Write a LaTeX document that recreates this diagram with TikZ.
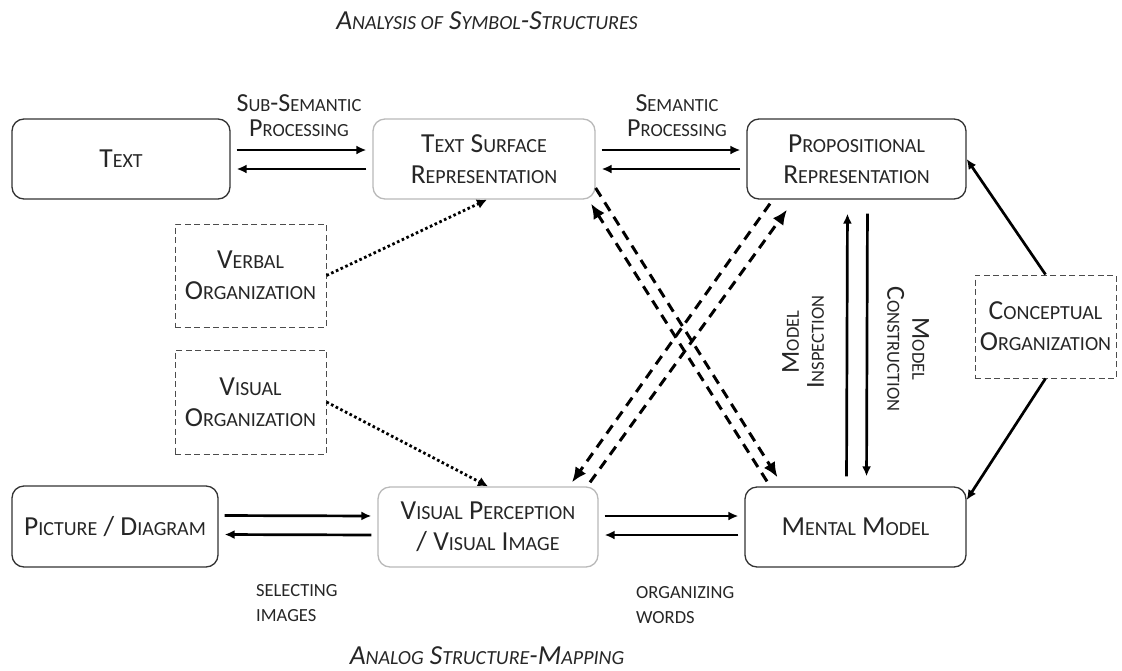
\documentclass[tikz,border=0pt]{standalone}
\usepackage{fontspec}
\setmainfont{Carlito}
\usepackage{tikz}
\usetikzlibrary{
        arrows.meta,
        positioning
    }
\newcommand{\bigc}{\fontsize{27.5}{31}\selectfont}
\newcommand{\smc}[1]{{\fontsize{20}{31}\selectfont #1}}
\newcommand{\lsmc}[1]{{\fontsize{18.5}{25}\selectfont #1}}
\tikzset{>={Latex[length=10pt,width=9pt]},shorten >=6pt,shorten <=6pt}
\tikzset{box/.style={draw=black!80,line width=1.3pt,rounded corners=12pt,align=center,
        text=black!85,inner sep=0pt,font=\bigc}}
\tikzset{lightbox/.style={box,draw=gray!55}}
\tikzset{orgbox/.style={draw=black!70,line width=1pt,dash pattern=on 6pt off 3.5pt,
        align=center,text=black!85,inner sep=0pt,font=\bigc}}
\tikzset{flow/.style={->,line width=2.7pt}}
\tikzset{cross/.style={line width=3pt,dash pattern=on 10pt off 7pt,
        -{Latex[length=15pt,width=13pt]},shorten >=0pt,shorten <=0pt}}
\tikzset{organize/.style={line width=2.8pt,dash pattern=on 2.6pt off 2.6pt,
        -{Latex[length=10pt,width=10pt]},shorten >=0pt,shorten <=0pt}}
\tikzset{lbl/.style={align=center,text=black!85,inner sep=0pt,
        font=\fontsize{26}{25}\selectfont}}

\begin{document}
\begin{tikzpicture}[x=1pt,y=-1pt]
                    \useasboundingbox (0,0) rectangle (1122,670);
                    % upper row
                    \node[box,minimum width=218pt,minimum height=80pt] (txt) at (121,159) {T\smc{EXT}};
                    \node[lightbox,minimum width=222pt,minimum height=80pt] (tsr) at (484,159)
                        {T\smc{EXT} S\smc{URFACE}\\R\smc{EPRESENTATION}};
                    \node[box,minimum width=219pt,minimum height=80pt] (prop) at (856.5,159)
                        {P\smc{ROPOSITIONAL}\\R\smc{EPRESENTATION}};
                    % organization boxes
                    \node[orgbox,minimum width=151pt,minimum height=103pt] (verb) at (250.5,275.5)
                        {V\smc{ERBAL}\\O\smc{RGANIZATION}};
                    \node[orgbox,minimum width=151pt,minimum height=104pt] (visorg) at (250.5,402)
                        {V\smc{ISUAL}\\O\smc{RGANIZATION}};
                    \node[orgbox,minimum width=141pt,minimum height=103pt] (conc) at (1045.5,326.5)
                        {C\smc{ONCEPTUAL}\\O\smc{RGANIZATION}};
                    % lower row
                    \node[box,minimum width=206pt,minimum height=81pt] (pic) at (115,526.5)
                        {P\smc{ICTURE} / D\smc{IAGRAM}};
                    \node[lightbox,minimum width=220pt,minimum height=80pt] (vis) at (488,527)
                        {V\smc{ISUAL} P\smc{ERCEPTION}\\/ V\smc{ISUAL} I\smc{MAGE}};
                    \node[box,minimum width=221pt,minimum height=80pt] (mm) at (855.5,527)
                        {M\smc{ENTAL} M\smc{ODEL}};
                    % labels
                    \node[lbl] (subsem) at (299,115.5) {S\lsmc{UB}-S\lsmc{EMANTIC}\\P\lsmc{ROCESSING}};
                    \node[lbl] (sem) at (677,115.5) {S\lsmc{EMANTIC}\\P\lsmc{ROCESSING}};
                    \node[lbl,align=left,anchor=west] (selimg) at (256,603) {\lsmc{SELECTING}\\\lsmc{IMAGES}};
                    \node[lbl,align=left,anchor=west] (orgwords) at (636,605) {\lsmc{ORGANIZING}\\\lsmc{WORDS}};
                    \node[lbl,rotate=90] (inspect) at (803,342) {M\lsmc{ODEL}\\I\lsmc{NSPECTION}};
                    \node[lbl,rotate=-90] (construct) at (908,349) {M\lsmc{ODEL}\\C\lsmc{ONSTRUCTION}};
                    \node[lbl,font=\fontsize{27.5}{31}\selectfont\itshape] (symb) at (487,21)
                        {A\smc{NALYSIS OF} S\smc{YMBOL}-S\smc{TRUCTURES}};
                    \node[lbl,font=\fontsize{27.5}{31}\selectfont\itshape] (analog) at (487,656)
                        {A\smc{NALOG} S\smc{TRUCTURE}-M\smc{APPING}};
                    \path
                        ([yshift=9pt]txt.east)   edge[flow] ([yshift=9pt]tsr.west)
                        ([yshift=-10pt]tsr.west) edge[flow] ([yshift=-10pt]txt.east)
                        ([yshift=9pt]tsr.east)   edge[flow] ([yshift=9pt]prop.west)
                        ([yshift=-10pt]prop.west) edge[flow] ([yshift=-10pt]tsr.east)
                        ([yshift=11pt]pic.east)  edge[flow] ([yshift=11pt]vis.west)
                        ([yshift=-8pt]vis.west)  edge[flow] ([yshift=-8pt]pic.east)
                        ([yshift=11pt]vis.east)  edge[flow] ([yshift=11pt]mm.west)
                        ([yshift=-8pt]mm.west)   edge[flow] ([yshift=-8pt]vis.east)
                        ([xshift=-9pt]mm.north)  edge[flow,shorten <=10pt,shorten >=14pt] ([xshift=-9pt]prop.south)
                        ([xshift=11pt]prop.south) edge[flow,shorten <=14pt,shorten >=10pt] ([xshift=11pt]mm.north)
                        (conc.north)             edge[flow,shorten <=0pt,shorten >=0pt] (prop.east)
                        (conc.south)             edge[flow,shorten <=0pt,shorten >=0pt] ([yshift=27pt]mm.east)
                        (verb.east)              edge[organize] ([xshift=3pt]tsr.south)
                        (visorg.east)            edge[organize] (vis.north)
                        ([yshift=-29pt]tsr.east) edge[cross] ([xshift=-78pt,yshift=9pt]mm.north)
                        ([xshift=-88.5pt,yshift=5pt]mm.north) edge[cross] ([xshift=107pt,yshift=-4pt]tsr.south)
                        ([xshift=102pt,yshift=4pt]vis.north) edge[cross] ([xshift=-69.5pt,yshift=-10pt]prop.south)
                        ([xshift=-86.5pt,yshift=-4pt]prop.south) edge[cross] ([xshift=84pt,yshift=4pt]vis.north)
                    ;
                \end{tikzpicture}
\end{document}
